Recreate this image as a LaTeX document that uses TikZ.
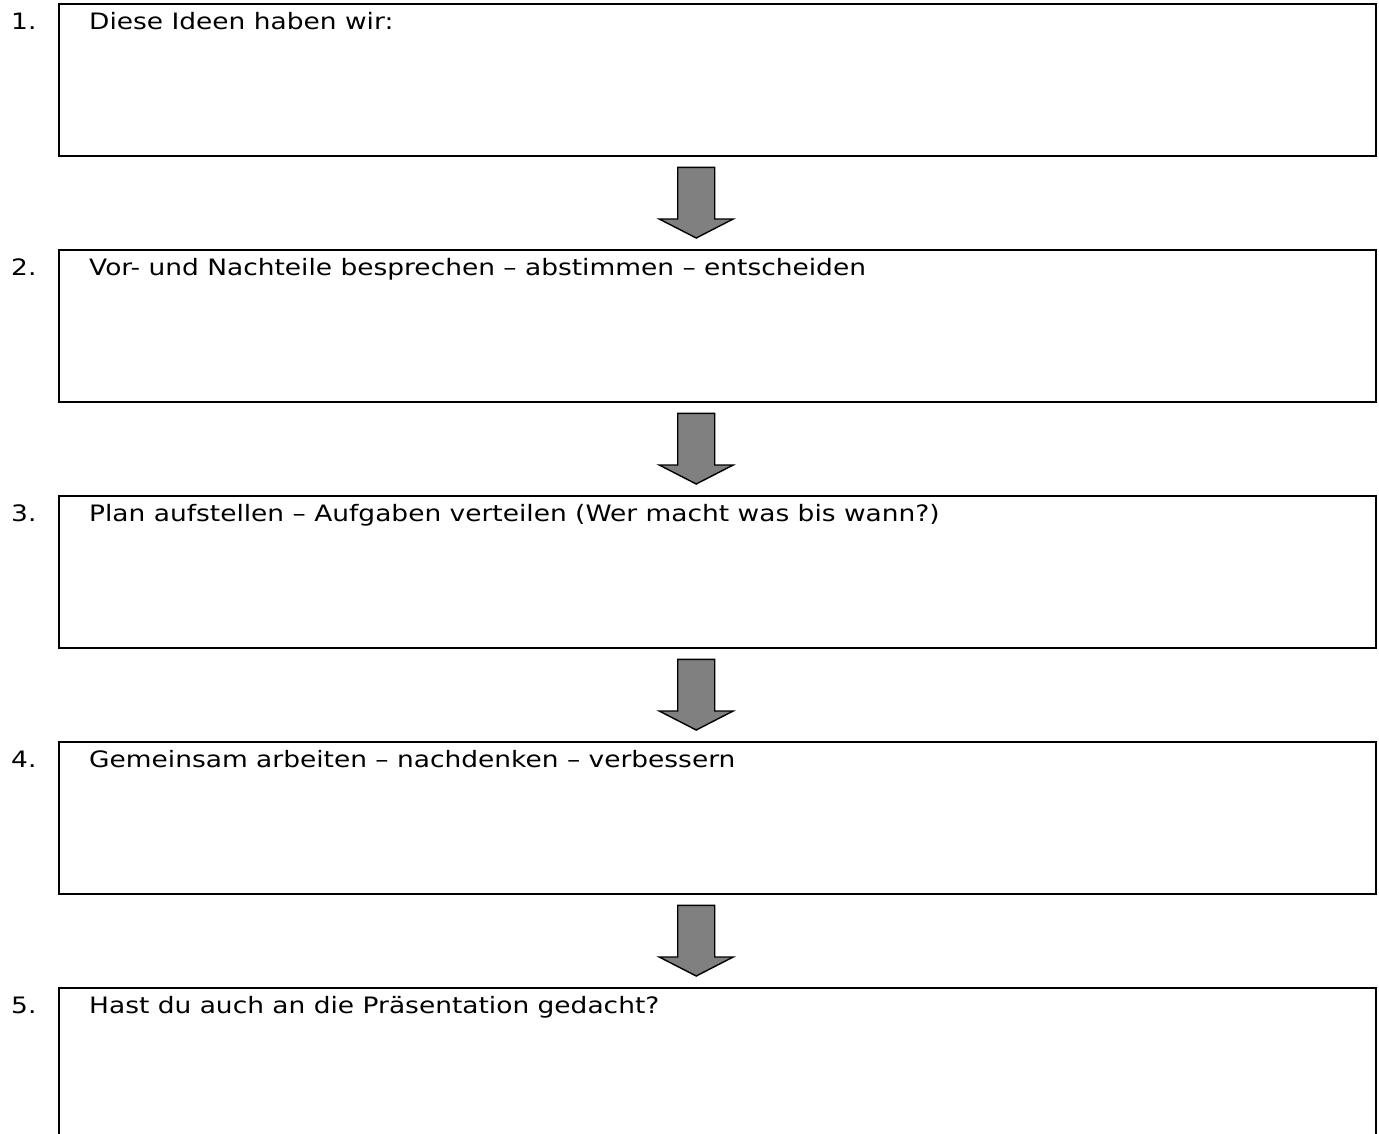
\documentclass[tikz,border=0pt]{standalone}
\usepackage{fontspec}
\setmainfont{DejaVu Sans}[FakeStretch=1.17]
\usetikzlibrary{calc,positioning}
\definecolor{arrowgray}{RGB}{128,128,128}

\begin{document}
\begin{tikzpicture}[x=1pt,y=-1pt,line join=miter,
  stepbox/.style={draw=black,line width=2.4pt,minimum width=1317pt,minimum height=152pt,anchor=north west,inner sep=0pt},
  steptext/.style={anchor=base west,inner sep=0pt,font=\fontsize{22.6}{26}\selectfont},
  blockarrow/.style={draw=black,line width=1.4pt,fill=arrowgray}]
\useasboundingbox (0,0) rectangle (1379,1133);
\clip (0,0) rectangle (1379,1133);
% five steps
\foreach \i/\y/\txt in {1/3/{Diese Ideen haben wir:},
  2/249/{Vor- und Nachteile besprechen – abstimmen – entscheiden},
  3/495/{Plan aufstellen – Aufgaben verteilen (Wer macht was bis wann?)},
  4/741/{Gemeinsam arbeiten – nachdenken – verbessern},
  5/987/{Hast du auch an die Präsentation gedacht?}}{
  \node[stepbox] (box\i) at (58,\y) {};
  \node[steptext] (text\i) at ($(box\i.north west)+(31,26)$) {\txt};
  \node[steptext] (num\i) at ($(box\i.north west)+(-47,26)$) {\i.};
}
% block arrows between the steps
\foreach \a/\b in {1/2,2/3,3/4,4/5}{
  \coordinate (top\a) at ($(box\a.south)+(-21.5,10)$);
  \coordinate (tip\a) at ($(box\b.north)+(-21.5,-11)$);
  \draw[blockarrow] ($(top\a)+(-18.5,0)$) -- ($(top\a)+(18.5,0)$)
    -- ($(tip\a)+(18.5,-19)$) -- ($(tip\a)+(37,-19)$) -- (tip\a)
    -- ($(tip\a)+(-37,-19)$) -- ($(tip\a)+(-18.5,-19)$) -- cycle;
}
\end{tikzpicture}
\end{document}
